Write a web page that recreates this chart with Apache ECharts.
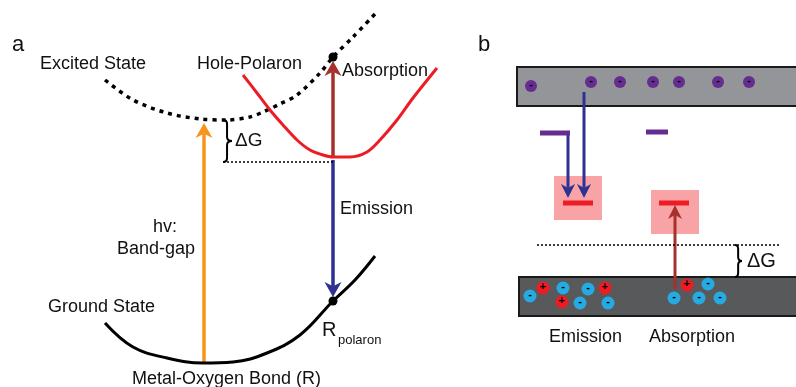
<!DOCTYPE html>
<html><head><meta charset="utf-8">
<script src="https://cdn.jsdelivr.net/npm/echarts@6/dist/echarts.min.js"></script>
<style>html,body{margin:0;padding:0;background:#fff}#c{width:796px;height:387px}</style>
</head><body><div id="c"></div>
<script>
// ---- data (diagram coordinates) ----
const excitedState = [[105,80],[133,100],[167,113],[200,119],[227,120],[250,117],[263,112],[280,104],[297,95],[320,73],[333,57],[353,37],[375,14]];
const holePolaron = [[243,75],[257,93],[270,110],[283,125],[297,140],[310,150],[323,155],[333,157],[350,157],[367,152],[380,140],[397,120],[413,98],[437,68]];
const groundState = [[105,323],[133,347],[167,358],[203,363],[233,362],[267,353],[300,335],[333,301],[355,280],[375,256]];
const curveDots = [[333,57],[333,301]];
const refLines = [[[223,162],[333,162]],[[537,245],[780,245]]];
const braces = [[223,120,162,9],[735,245,277,7]];
const arrowsA = [[204,363,204,123],[333,157,333,61],[333,160,333,297]];
const arrowsAColors = ['#f7941d','#a6312b','#2e3192'];
const arrowsB = [[568,133,568,198],[584,92,584,198],[675,289,675,205]];
const arrowsBColors = ['#2e3192','#2e3192','#a6312b'];
const bands = [[517,67,800,106],[519,277,800,316]];
const bandColors = ['#939598','#58595b'];
const pinkBoxes = [[554,176,602,220],[651,190,699,234]];
const purpleLevels = [[[540,133],[570,133]],[[646,132],[668,132]]];
const redLevels = [[[563,203],[593,203]],[[659,203],[689,203]]];
const electronsCB = [[531,86],[591,82],[620,82],[653,82],[679,82],[718,82],[749,82]];
const holesVB = [[543,288],[562,302],[605,288],[687,285]];
const electronsVB = [[530,296],[563,288],[580,303],[588,289],[608,303],[674,298],[699,298],[708,284],[720,298]];
const labels = [
  ['a',12,45,22],['b',478,45,22],
  ['Excited State',40,64,18],['Hole-Polaron',197,64,18],['Absorption',342,71,18],
  ['\u0394G',235,141,19],['Emission',340,209,18],['hv:',153,227,18],['Band-gap',117,249,18],
  ['Ground State',48,307,18],['R',322,330,20],['polaron',338,340,13],['Metal-Oxygen Bond (R)',132,379,18],
  ['CB',764,95,22],['\u0394G',747,261,20],['VB',768,302,22],['Emission',549,337,18],['Absorption',649,337,18]
];

const FONT = '"Liberation Sans", Arial, sans-serif';
const chart = echarts.init(document.getElementById('c'));

function rectItem(colors, stroke){
  return function(params, api){
    const p1 = api.coord([api.value(0), api.value(1)]);
    const p2 = api.coord([api.value(2), api.value(3)]);
    return {type:'rect', shape:{x:p1[0], y:p1[1], width:p2[0]-p1[0], height:p2[1]-p1[1]},
      style:{fill: colors[params.dataIndex % colors.length], stroke: stroke || null, lineWidth: 2}};
  };
}
function arrowItem(colors, lw, L, W){
  return function(params, api){
    const s = api.coord([api.value(0), api.value(1)]);
    const t = api.coord([api.value(2), api.value(3)]);
    const color = colors[params.dataIndex];
    const dx = t[0]-s[0], dy = t[1]-s[1], len = Math.hypot(dx,dy);
    const ux = dx/len, uy = dy/len, nx = -uy, ny = ux;
    const bx = t[0]-ux*L, by = t[1]-uy*L;
    const mx = t[0]-ux*L*0.72, my = t[1]-uy*L*0.72;
    return {type:'group', children:[
      {type:'line', shape:{x1:s[0], y1:s[1], x2:mx, y2:my}, style:{stroke:color, lineWidth:lw}},
      {type:'polygon', shape:{points:[[t[0],t[1]],[bx+nx*W/2,by+ny*W/2],[mx,my],[bx-nx*W/2,by-ny*W/2]]}, style:{fill:color}}
    ]};
  };
}
function braceItem(params, api){
  const x = api.value(0), w = api.value(3);
  const a = api.coord([x, api.value(1)]);
  const b = api.coord([x, api.value(2)]);
  const x0 = a[0], y1 = a[1], y2 = b[1], ym = (y1+y2)/2, xm = x0 + w*0.45, xp = x0 + w, r = 4;
  const d = `M${x0},${y1} Q${xm},${y1} ${xm},${y1+r} L${xm},${ym-r} Q${xm},${ym} ${xp},${ym} Q${xm},${ym} ${xm},${ym+r} L${xm},${y2-r} Q${xm},${y2} ${x0},${y2}`;
  return {type:'path', shape:{pathData:d}, style:{fill:null, stroke:'#000', lineWidth:2}};
}
function segSeries(segs, color, width, type){
  return segs.map(s => ({type:'line', data:s, symbol:'none', silent:true,
    lineStyle:{color:color, width:width, type:type||'solid', cap:'butt'}}));
}
function dotSeries(pts, color, size, sign){
  return {type:'scatter', data:pts, symbol:'circle', symbolSize:size, silent:true,
    itemStyle:{color:color, opacity:1},
    label:{show:!!sign, position:'inside', formatter:sign||'', color:'#000', fontSize:11, fontWeight:'bold', fontFamily:FONT, offset:[0,-1]}};
}

const option = {
  animation:false,
  grid:{left:0,right:0,top:0,bottom:0},
  xAxis:{type:'value',min:0,max:796,show:false},
  yAxis:{type:'value',min:0,max:387,inverse:true,show:false},
  series:[
    {type:'custom', renderItem:rectItem(bandColors, '#1a1a1a'), data:bands, clip:false, silent:true},
    {type:'custom', renderItem:rectItem(['rgba(237,28,36,0.4)']), data:pinkBoxes, silent:true},
    ...segSeries(refLines, '#000', 1.5, [2,2]),
    {type:'line', data:excitedState, smooth:0.3, symbol:'none', silent:true, lineStyle:{color:'#000', width:3.5, type:[4,5]}},
    {type:'line', data:holePolaron, smooth:0.3, symbol:'none', silent:true, lineStyle:{color:'#ed1c24', width:3}},
    {type:'line', data:groundState, smooth:0.4, symbol:'none', silent:true, lineStyle:{color:'#000', width:3}},
    {type:'custom', renderItem:braceItem, data:braces, silent:true},
    ...segSeries(purpleLevels, '#662d91', 5),
    ...segSeries(redLevels, '#ed1c24', 5),
    {type:'custom', renderItem:arrowItem(arrowsAColors, 3.5, 15, 17), data:arrowsA, silent:true},
    {type:'custom', renderItem:arrowItem(arrowsBColors, 3, 14, 14), data:arrowsB, silent:true},
    dotSeries(curveDots, '#000', 9),
    dotSeries(electronsCB, '#662d91', 12, '-'),
    dotSeries(holesVB, '#ed1c24', 13, '+'),
    dotSeries(electronsVB, '#27aae1', 13, '-')
  ],
  graphic: labels.map(l => ({type:'text', x:l[1], y:l[2], silent:true,
    style:{text:l[0], fill:'#111', font: l[3]+'px '+FONT, textAlign:'left', textVerticalAlign:'middle'}}))
};
chart.setOption(option);
</script></body></html>
